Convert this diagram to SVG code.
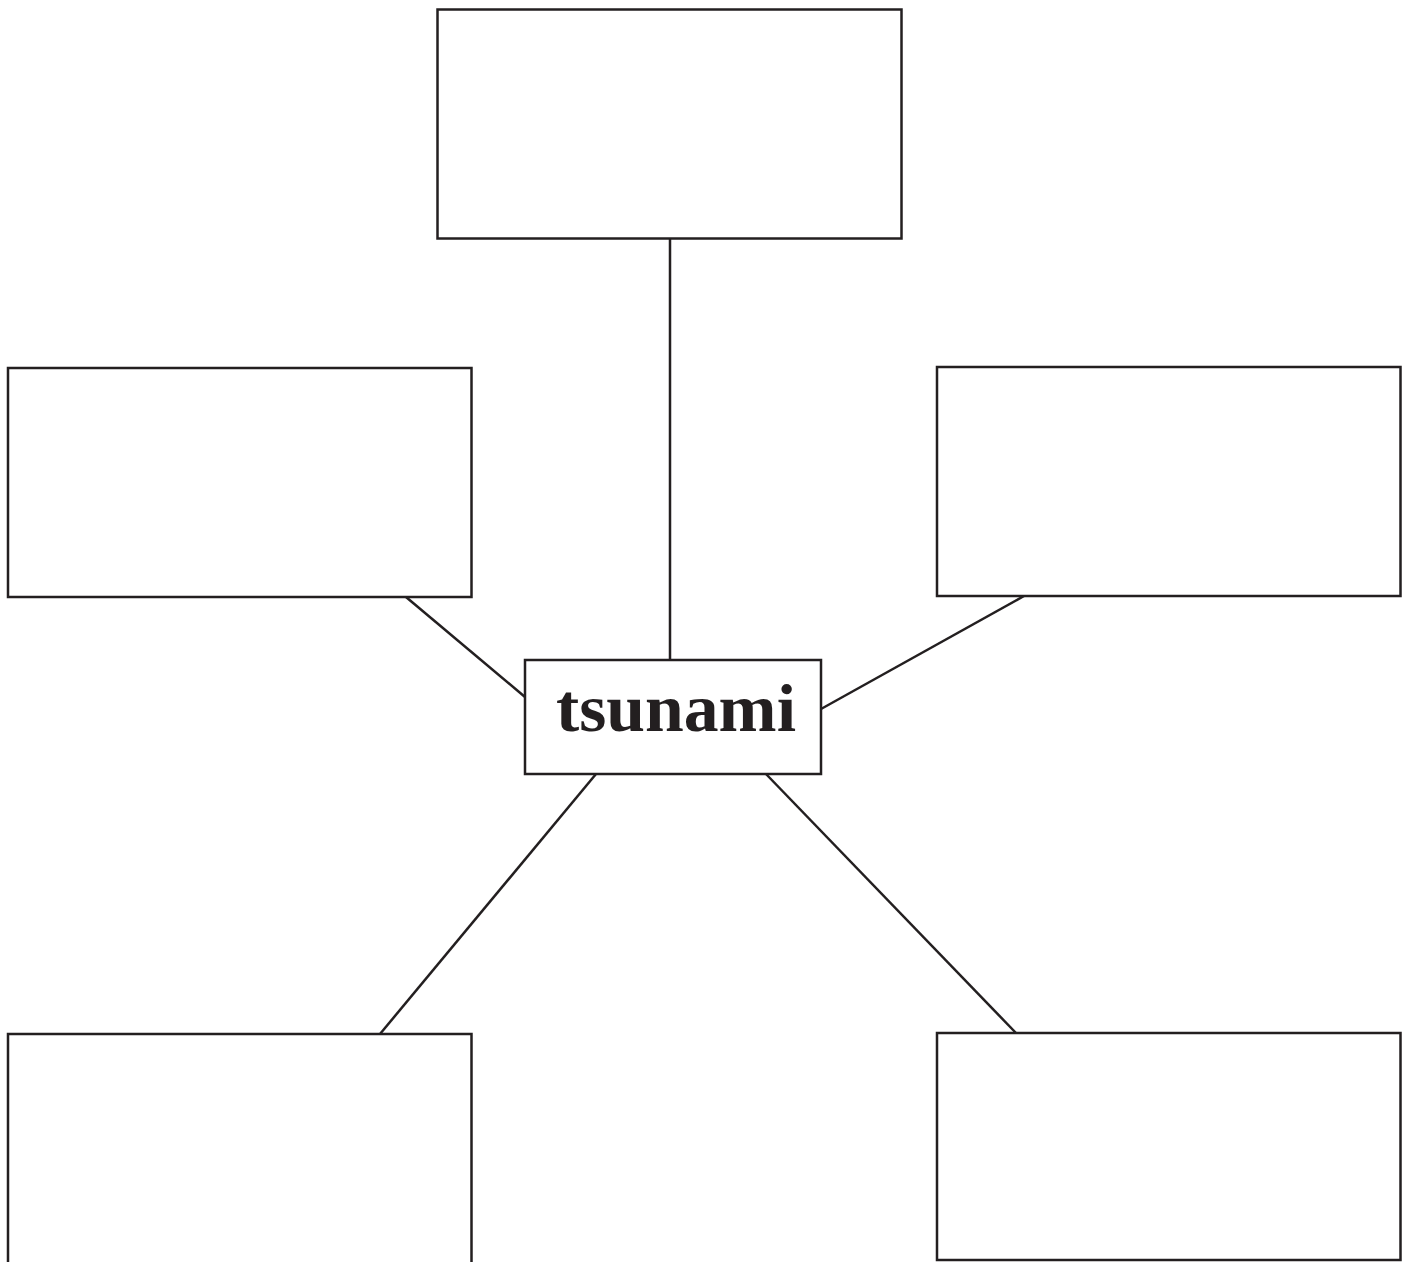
<svg xmlns="http://www.w3.org/2000/svg" width="1411" height="1262" viewBox="0 0 1411 1262">
<style>
.box{fill:#fff;stroke:#231f20;stroke-width:2.5}
.con{stroke:#231f20;stroke-width:2.5;fill:none}
.lbl{font-family:"Liberation Serif","DejaVu Serif",serif;font-weight:bold;font-size:68px;fill:#231f20}
</style>
<rect width="1411" height="1262" fill="#fff"/>
<g id="connectors">
<line class="con" x1="670" y1="238" x2="670" y2="660"/>
<line class="con" x1="406" y1="597" x2="525" y2="697"/>
<line class="con" x1="1024" y1="596" x2="821" y2="709"/>
<line class="con" x1="596" y1="774" x2="380" y2="1034"/>
<line class="con" x1="766" y1="774" x2="1016" y2="1033"/>
</g>
<g id="node-top"><rect class="box" x="437.5" y="9.5" width="464" height="229"/></g>
<g id="node-left"><rect class="box" x="8" y="368" width="463.5" height="229"/></g>
<g id="node-right"><rect class="box" x="937" y="367" width="463.5" height="229"/></g>
<g id="node-bottom-left"><path class="box" d="M8,1264 V1034 H471.5 V1264"/></g>
<g id="node-bottom-right"><rect class="box" x="937" y="1033" width="463.5" height="227"/></g>
<g id="node-center"><rect class="box" x="525" y="660" width="296" height="114"/>
<text class="lbl" x="676" y="731" text-anchor="middle" textLength="240" lengthAdjust="spacingAndGlyphs">tsunami</text></g>
</svg>
